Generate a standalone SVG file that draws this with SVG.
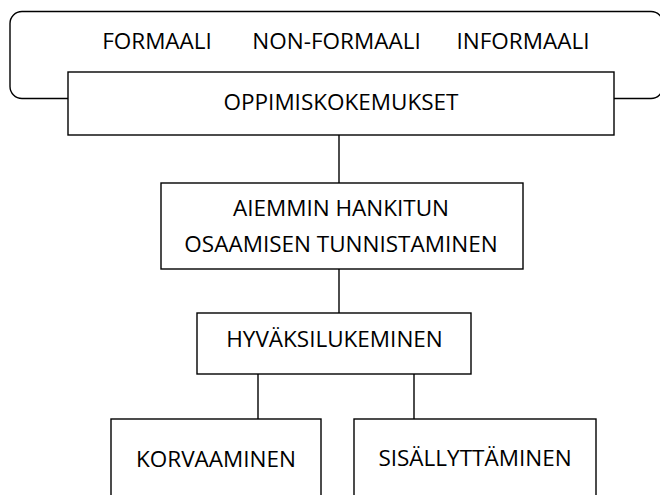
<svg xmlns="http://www.w3.org/2000/svg" width="660" height="495" viewBox="0 0 660 495">
<style>
.box{fill:#fff;stroke:#000;stroke-width:1.4}
.ln{fill:none;stroke:#000;stroke-width:1.4}
text{font-family:"Open Sans","Liberation Sans",sans-serif;font-size:22.5px;fill:#000;text-anchor:middle}
</style>
<rect width="660" height="495" fill="#fff"/>
<g id="bracket">
<path class="ln" d="M68,98.5 H22 A12,12 0 0 1 10,86.5 V23.5 A12,12 0 0 1 22,11.5 H651 A12,12 0 0 1 663,23.5 V86.5 A12,12 0 0 1 651,98.5 H614"/>
<text x="157" y="49">FORMAALI</text>
<text x="336.5" y="49">NON-FORMAALI</text>
<text x="523" y="49">INFORMAALI</text>
</g>
<g id="connectors">
<line class="ln" x1="339" y1="135" x2="339" y2="183"/>
<line class="ln" x1="339" y1="269" x2="339" y2="313"/>
<line class="ln" x1="258" y1="374" x2="258" y2="419"/>
<line class="ln" x1="414" y1="374" x2="414" y2="419"/>
</g>
<g id="oppimiskokemukset">
<rect class="box" x="68" y="72" width="546" height="63"/>
<text x="341" y="110">OPPIMISKOKEMUKSET</text>
</g>
<g id="tunnistaminen">
<rect class="box" x="161" y="183" width="362" height="86"/>
<text x="341" y="216">AIEMMIN HANKITUN</text>
<text x="341" y="252">OSAAMISEN TUNNISTAMINEN</text>
</g>
<g id="hyvaksilukeminen">
<rect class="box" x="197" y="313" width="274" height="61"/>
<text x="334.5" y="347">HYVÄKSILUKEMINEN</text>
</g>
<g id="korvaaminen">
<rect class="box" x="111" y="419" width="210" height="100"/>
<text x="216" y="467">KORVAAMINEN</text>
</g>
<g id="sisallyttaminen">
<rect class="box" x="354" y="419" width="242" height="100"/>
<text x="475" y="466">SISÄLLYTTÄMINEN</text>
</g>
</svg>
